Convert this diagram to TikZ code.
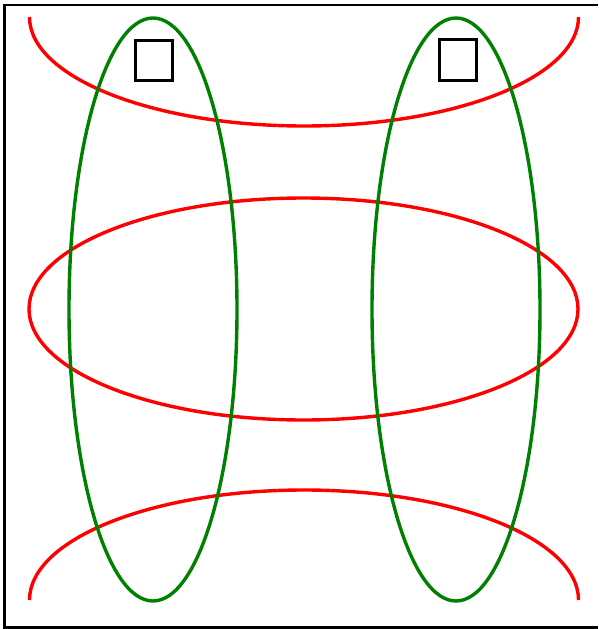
\documentclass[tikz,border=0pt]{standalone}
\definecolor{ringred}{RGB}{255,0,0}
\definecolor{ringgreen}{RGB}{0,128,0}
\tikzset{
  redring/.style={draw=ringred, line width=3.4pt},
  greenring/.style={draw=ringgreen, line width=3.4pt},
  boxmark/.style={draw=black, line width=3pt},
  frameline/.style={draw=black, line width=2.5pt}
}
\begin{document}
\begin{tikzpicture}[x=1pt,y=-1pt]
\useasboundingbox (0,0) rectangle (598,629);
\fill[white] (0,0) rectangle (598,629);
% frame
\draw[frameline] (598,5) -- (4.5,5) -- (4.5,627.5) -- (598,627.5);
% red rings
\draw[redring] (29.5,17) arc[start angle=180, end angle=0, x radius=274.5, y radius=109];
\draw[redring] (303.5,309) ellipse[x radius=274.5, y radius=111];
\draw[redring] (29.5,600) arc[start angle=180, end angle=360, x radius=274.5, y radius=110];
% green rings
\draw[greenring] (153,309.5) ellipse[x radius=84, y radius=291.5];
\draw[greenring] (456,309.5) ellipse[x radius=84, y radius=291.5];
% squares
\draw[boxmark] (135,40.5) rectangle (172,80.5);
\draw[boxmark] (439,39.5) rectangle (476,80);
\end{tikzpicture}
\end{document}
